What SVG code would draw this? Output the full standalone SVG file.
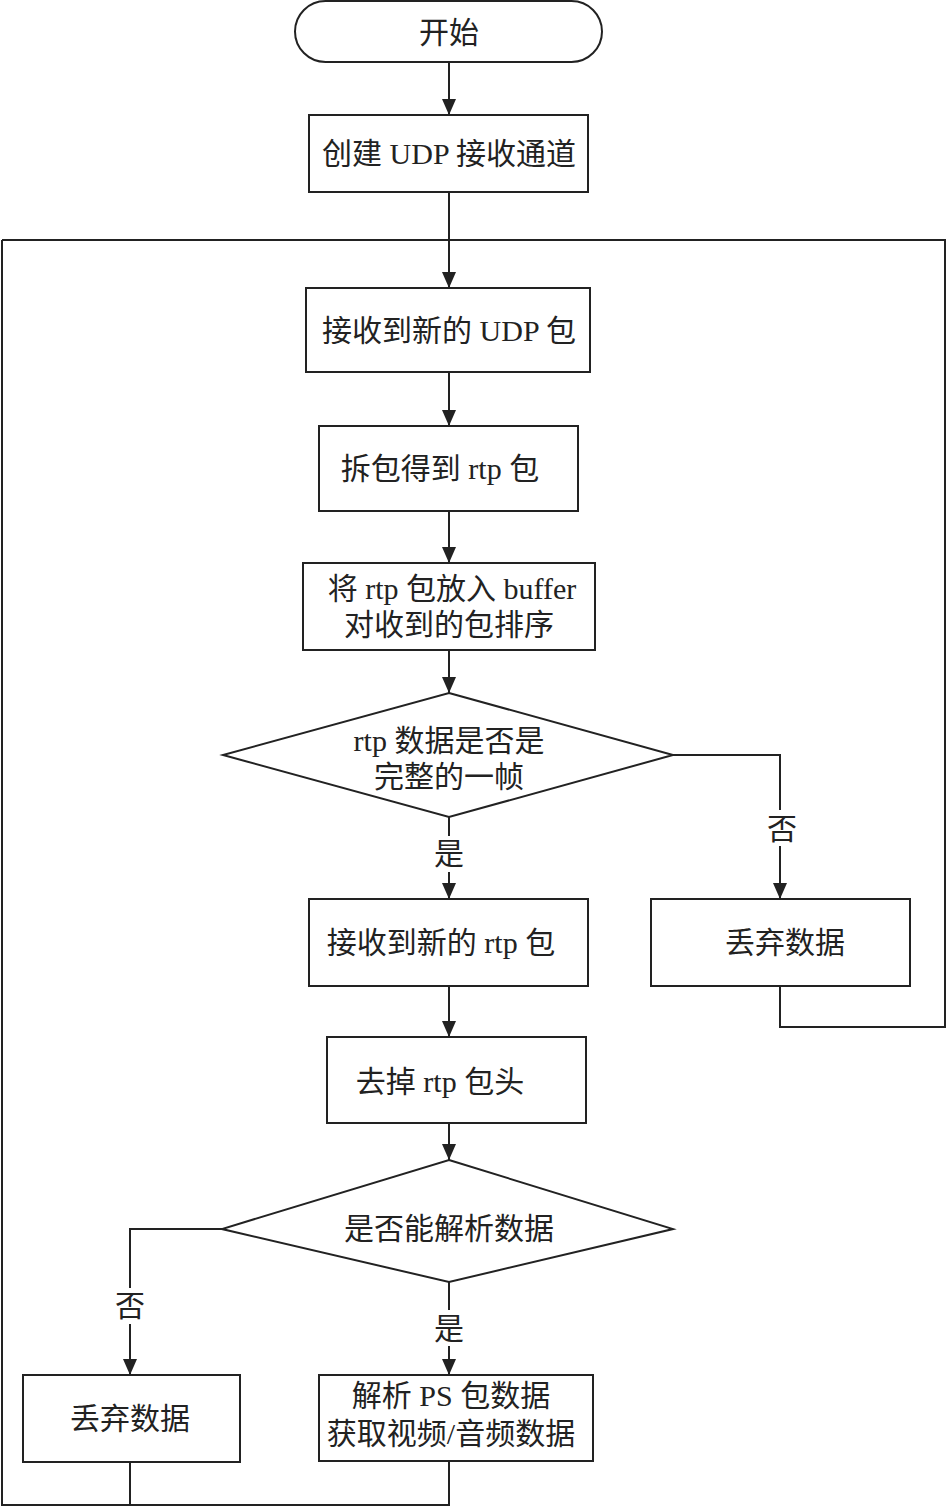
<svg xmlns="http://www.w3.org/2000/svg" width="947" height="1508" viewBox="0 0 947 1508">
<style>
.b{fill:#fff;stroke:#222;stroke-width:2}
.c{fill:none;stroke:#222;stroke-width:2}
text{font-family:"Liberation Serif","Noto Sans CJK SC",serif;font-size:30px;fill:#222;text-anchor:middle;dominant-baseline:central}
</style>
<defs>
<marker id="ar" markerWidth="16" markerHeight="14" refX="16" refY="7" orient="auto" markerUnits="userSpaceOnUse">
<path d="M0,0 L16,7 L0,14 Z" fill="#222"/>
</marker>
</defs>
<g id="connectors">
<path class="c" d="M449,62 V115" marker-end="url(#ar)"/>
<path class="c" d="M449,192 V288" marker-end="url(#ar)"/>
<path class="c" d="M2,240 H945 V1027 H780 V986"/>
<path class="c" d="M2,240 V1505 H449 V1461"/>
<path class="c" d="M130,1505 V1462"/>
<path class="c" d="M449,372 V426" marker-end="url(#ar)"/>
<path class="c" d="M449,511 V563" marker-end="url(#ar)"/>
<path class="c" d="M449,650 V693" marker-end="url(#ar)"/>
<path class="c" d="M449,817 V836"/>
<path class="c" d="M449,872 V899" marker-end="url(#ar)"/>
<path class="c" d="M673,755 H780 V810"/>
<path class="c" d="M780,846 V899" marker-end="url(#ar)"/>
<path class="c" d="M449,986 V1037" marker-end="url(#ar)"/>
<path class="c" d="M449,1123 V1160" marker-end="url(#ar)"/>
<path class="c" d="M222,1229 H130 V1288"/>
<path class="c" d="M130,1324 V1375" marker-end="url(#ar)"/>
<path class="c" d="M449,1282 V1310"/>
<path class="c" d="M449,1346 V1375" marker-end="url(#ar)"/>
<text x="449" y="853">是</text>
<text x="782" y="828">否</text>
<text x="130" y="1305">否</text>
<text x="449" y="1328">是</text>
</g>
<g id="start"><rect class="b" x="295" y="1" width="307" height="61" rx="30.5"/><text x="449" y="32">开始</text></g>
<g id="create"><rect class="b" x="309" y="115" width="279" height="77"/><text x="449" y="153">创建 UDP 接收通道</text></g>
<g id="recvudp"><rect class="b" x="306" y="288" width="284" height="84"/><text x="449" y="330">接收到新的 UDP 包</text></g>
<g id="unpack"><rect class="b" x="319" y="426" width="259" height="85"/><text x="440" y="468">拆包得到 rtp 包</text></g>
<g id="buffer"><rect class="b" x="303" y="563" width="292" height="87"/><text x="452" y="588">将 rtp 包放入 buffer</text><text x="449" y="624">对收到的包排序</text></g>
<g id="dec1"><polygon class="b" points="449,693 673,755 449,817 223,755"/><text x="449" y="740">rtp 数据是否是</text><text x="449" y="776">完整的一帧</text></g>
<g id="recvrtp"><rect class="b" x="309" y="899" width="279" height="87"/><text x="441" y="942">接收到新的 rtp 包</text></g>
<g id="drop1"><rect class="b" x="651" y="899" width="259" height="87"/><text x="785" y="942">丢弃数据</text></g>
<g id="strip"><rect class="b" x="327" y="1037" width="259" height="86"/><text x="440" y="1081">去掉 rtp 包头</text></g>
<g id="dec2"><polygon class="b" points="449,1160 673,1229 449,1282 222,1229"/><text x="449" y="1228">是否能解析数据</text></g>
<g id="drop2"><rect class="b" x="23" y="1375" width="217" height="87"/><text x="130" y="1418">丢弃数据</text></g>
<g id="parse"><rect class="b" x="319" y="1375" width="274" height="86"/><text x="451" y="1395">解析 PS 包数据</text><text x="451" y="1433">获取视频/音频数据</text></g>
</svg>
